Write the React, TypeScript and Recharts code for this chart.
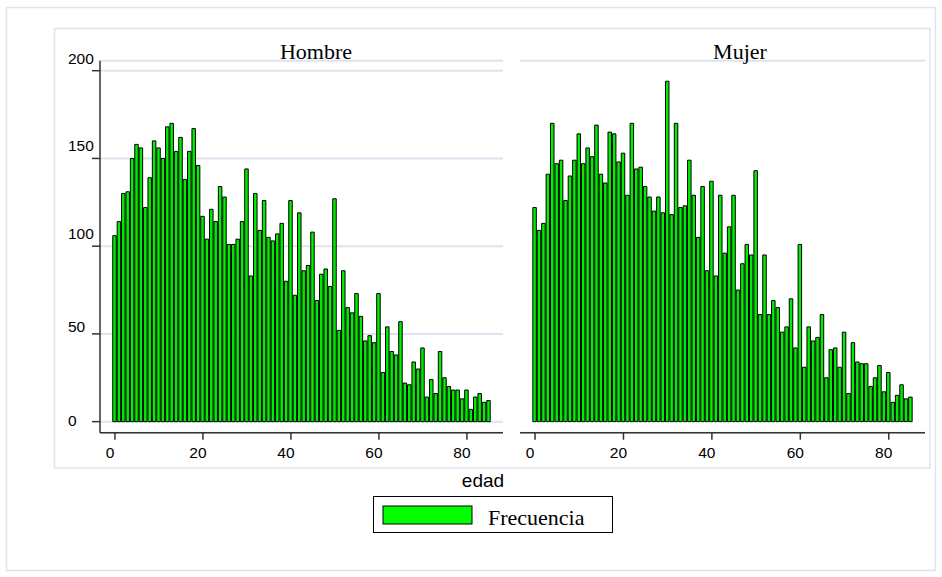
import { BarChart, Bar, XAxis, YAxis, CartesianGrid } from 'recharts';

// ages 0..85, one bar per age
const EDAD = [
  0, 1, 2, 3, 4, 5, 6, 7, 8, 9, 10, 11, 12, 13, 14, 15, 16, 17, 18, 19,
  20, 21, 22, 23, 24, 25, 26, 27, 28, 29, 30, 31, 32, 33, 34, 35, 36, 37, 38, 39,
  40, 41, 42, 43, 44, 45, 46, 47, 48, 49, 50, 51, 52, 53, 54, 55, 56, 57, 58, 59,
  60, 61, 62, 63, 64, 65, 66, 67, 68, 69, 70, 71, 72, 73, 74, 75, 76, 77, 78, 79,
  80, 81, 82, 83, 84, 85,
];

const HOMBRE = [
  106, 114, 130, 131, 150, 158, 156, 122, 139, 160, 156, 150, 168, 170, 154, 162, 138, 154, 167, 146,
  117, 104, 121, 114, 134, 128, 101, 101, 104, 114, 144, 83, 130, 109, 126, 105, 103, 107, 113, 80,
  126, 72, 119, 86, 89, 108, 69, 84, 87, 77, 127, 52, 86, 65, 62, 73, 60, 46, 49, 45,
  73, 28, 54, 40, 38, 57, 22, 21, 34, 30, 42, 14, 24, 16, 40, 25, 20, 18, 18, 13,
  18, 7, 14, 16, 11, 12,
];

const MUJER = [
  122, 109, 113, 141, 170, 147, 149, 126, 140, 149, 164, 147, 156, 151, 169, 141, 136, 165, 164, 148,
  153, 129, 170, 144, 145, 134, 128, 120, 128, 119, 194, 118, 170, 122, 123, 149, 129, 105, 134, 86,
  137, 83, 129, 96, 111, 129, 75, 90, 101, 95, 143, 61, 95, 61, 69, 65, 51, 54, 70, 42,
  101, 31, 54, 46, 48, 61, 25, 41, 42, 31, 51, 16, 45, 34, 33, 33, 20, 25, 32, 17,
  28, 11, 15, 21, 13, 14,
];

const PANELES = ['Hombre', 'Mujer'];
const Y_TICKS = [0, 50, 100, 150, 200];
const X_TICKS = [0, 20, 40, 60, 80];
const SERIE = 'Frecuencia';
const X_TITULO = 'edad';

const SERIF = '"Liberation Serif", "Times New Roman", serif';
const SANS = '"Liberation Sans", Arial, sans-serif';
const VERDE = '#00ee00';
const GRID = '#dfe3ef';
const EJE = '#333';

// stata puts the y labels a little above their ticks
const Y_NUDGE: Record<number, number> = { 0: 4, 50: -2, 100: -7, 150: -7, 200: -7 };

function YTick({ y, payload }: any) {
  return (
    <text x={68} y={y + (Y_NUDGE[payload.value] ?? -7)} fontSize={15.5} fontFamily={SANS} fill="#000">
      {payload.value}
    </text>
  );
}

function XTick({ x, y, payload }: any) {
  return (
    <text x={x - 5} y={y + 18} textAnchor="middle" fontSize={15.5} fontFamily={SANS} fill="#000">
      {payload.value}
    </text>
  );
}

function Panel({ values, withYAxis, width, marginLeft }: { values: number[]; withYAxis: boolean; width: number; marginLeft: number }) {
  const data = EDAD.map((edad, i) => ({ edad, frecuencia: values[i] }));
  return (
    <BarChart
      width={width}
      height={470}
      data={data}
      margin={{ top: 60.7, right: 7, bottom: 7.3, left: marginLeft }}
    >
      <CartesianGrid horizontal vertical={false} stroke={GRID} strokeWidth={2} />
      <XAxis
        dataKey="edad"
        type="number"
        domain={[-3.4, 88.2]}
        allowDataOverflow
        ticks={X_TICKS}
        height={30}
        tickSize={7}
        tickMargin={0}
        tick={<XTick />}
        axisLine={{ stroke: EJE, strokeWidth: 1.5 }}
        tickLine={{ stroke: EJE, strokeWidth: 1.5 }}
      />
      {withYAxis ? (
        <YAxis
          type="number"
          domain={[-6.3, 205.7]}
          allowDataOverflow
          ticks={Y_TICKS}
          width={60}
          tickSize={8}
          tick={<YTick />}
          axisLine={{ stroke: EJE, strokeWidth: 1.5 }}
          tickLine={{ stroke: EJE, strokeWidth: 1.5 }}
        />
      ) : (
        <YAxis
          type="number"
          domain={[-6.3, 205.7]}
          allowDataOverflow
          ticks={Y_TICKS}
          width={0}
          tick={false}
          axisLine={false}
          tickLine={false}
        />
      )}
      <Bar
        dataKey="frecuencia"
        name={SERIE}
        fill={VERDE}
        stroke="#000"
        strokeWidth={1}
        barSize={3.5}
        isAnimationActive={false}
      />
    </BarChart>
  );
}

export default function App() {
  return (
    <div style={{ position: 'absolute', left: 0, top: 0, width: 942, height: 577, background: '#fff' }}>
      <svg width={942} height={577} style={{ position: 'absolute', left: 0, top: 0 }}>
        <rect x={6.5} y={7.5} width={929} height={563} fill="none" stroke={GRID} strokeWidth={1.5} />
        <rect x={54.5} y={28.5} width={875.5} height={439.5} fill="none" stroke={GRID} strokeWidth={1.5} />
      </svg>

      <div style={{ position: 'absolute', left: 0, top: 0 }}>
        <Panel values={HOMBRE} withYAxis width={510} marginLeft={40} />
      </div>
      <div style={{ position: 'absolute', left: 510, top: 0 }}>
        <Panel values={MUJER} withYAxis={false} width={422} marginLeft={10} />
      </div>

      <svg width={942} height={577} style={{ position: 'absolute', left: 0, top: 0, pointerEvents: 'none' }}>
        <text x={316} y={59} textAnchor="middle" fontSize={22} fontFamily={SERIF} fill="#000">{PANELES[0]}</text>
        <text x={740} y={59} textAnchor="middle" fontSize={22} fontFamily={SERIF} fill="#000">{PANELES[1]}</text>
        <text x={483} y={486.5} textAnchor="middle" fontSize={19} fontFamily={SANS} fill="#000">{X_TITULO}</text>
        <rect x={373.5} y={496.5} width={239} height={36} fill="#fff" stroke="#000" strokeWidth={1} />
        <rect x={383} y={506} width={89} height={18} fill="#00ff00" stroke="#000" strokeWidth={1} />
        <text x={488} y={525} fontSize={22} fontFamily={SERIF} fill="#000">{SERIE}</text>
      </svg>
    </div>
  );
}
